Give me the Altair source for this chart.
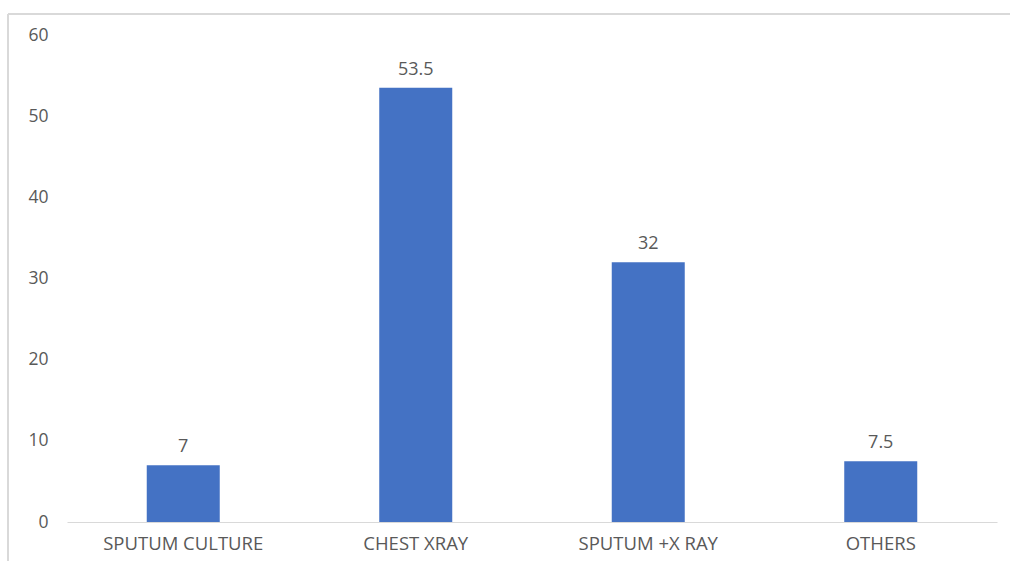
import altair as alt
import pandas as pd

categories = ["SPUTUM CULTURE", "CHEST XRAY", "SPUTUM +X RAY", "OTHERS"]
values = [7, 53.5, 32, 7.5]
value_labels = ["7", "53.5", "32", "7.5"]

df = pd.DataFrame({"method": categories, "value": values, "label": value_labels})

FONT = "Open Sans"
GREY = "#595959"

x_enc = alt.X(
    "method:N",
    sort=categories,
    title=None,
    scale=alt.Scale(paddingInner=0.686, paddingOuter=0.343),
    axis=alt.Axis(
        labelAngle=0,
        labelFont=FONT,
        labelFontSize=18.5,
        labelColor=GREY,
        labelPadding=12,
        ticks=False,
        domainColor="#d9d9d9",
        domainWidth=1.2,
        grid=False,
    ),
)
y_enc = alt.Y(
    "value:Q",
    title=None,
    scale=alt.Scale(domain=[0, 60], nice=False),
    axis=alt.Axis(
        values=[0, 10, 20, 30, 40, 50, 60],
        labelFont=FONT,
        labelFontSize=17.5,
        labelColor=GREY,
        labelPadding=19,
        ticks=False,
        domain=False,
        grid=False,
    ),
)

bars = alt.Chart(df).mark_bar(color="#4472C4").encode(x=x_enc, y=y_enc)

labels = alt.Chart(df).mark_text(
    font=FONT, fontSize=18, color=GREY, baseline="bottom", dy=-9
).encode(x=alt.X("method:N", sort=categories), y="value:Q", text="label:N")

# light grey frame along the top and left edges
frame_top = alt.Chart(df).mark_rule(color="#d9d9d9", strokeWidth=2).encode(
    x=alt.value(-59), x2=alt.value(943), y=alt.value(-21)
)
frame_left = alt.Chart(df).mark_rule(color="#d9d9d9", strokeWidth=2).encode(
    x=alt.value(-59), y=alt.value(-21), y2=alt.value(526)
)

chart = (
    alt.layer(frame_top, frame_left, bars, labels)
    .properties(
        width=930,
        height=487,
        autosize=alt.AutoSizeParams(type="none"),
        padding={"left": 67, "top": 35, "right": 13, "bottom": 39},
        background="white",
    )
    .configure_view(stroke=None)
)

chart.save("out.html", embed_options={"renderer": "svg", "actions": False})
